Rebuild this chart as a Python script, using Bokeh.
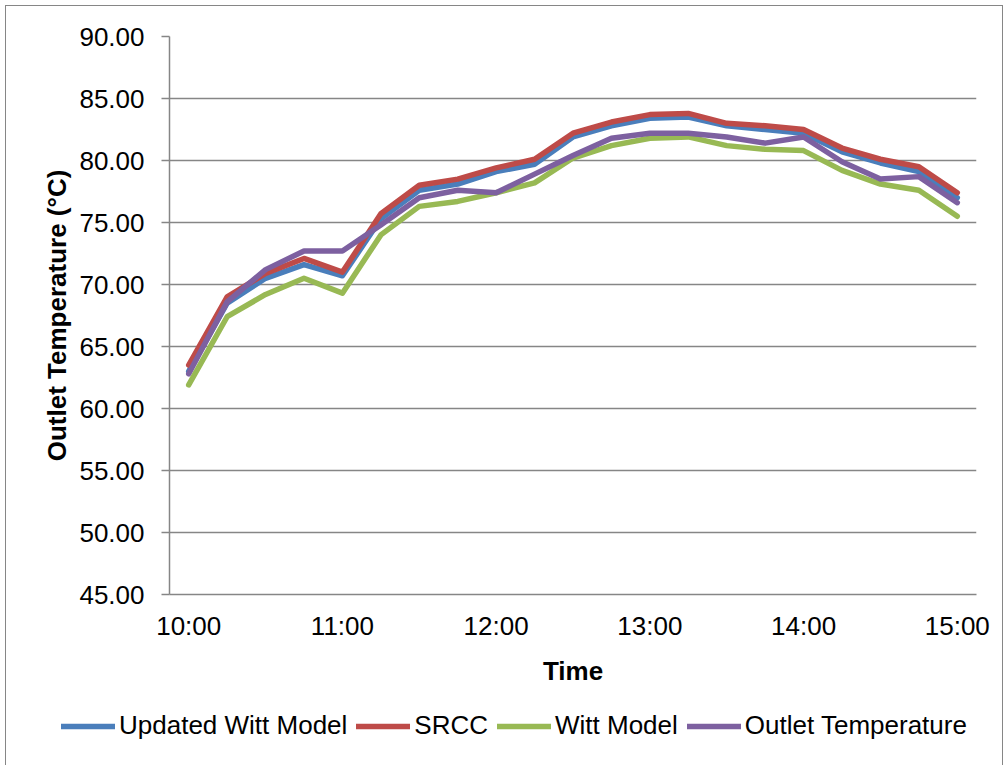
from bokeh.plotting import figure
from bokeh.layouts import column
from bokeh.models import (Range1d, Legend, LegendItem, NumeralTickFormatter, FixedTicker)
from bokeh.embed import file_html
from bokeh.resources import INLINE

times = ["10:00", "10:15", "10:30", "10:45", "11:00", "11:15", "11:30", "11:45",
         "12:00", "12:15", "12:30", "12:45", "13:00", "13:15", "13:30", "13:45",
         "14:00", "14:15", "14:30", "14:45", "15:00"]

updated_witt = [63.0, 68.5, 70.5, 71.6, 70.7, 75.3, 77.6, 78.1, 79.1, 79.7, 81.9,
                82.8, 83.4, 83.5, 82.8, 82.5, 82.2, 80.7, 79.8, 79.1, 77.0]
srcc = [63.5, 69.0, 70.9, 72.1, 71.0, 75.7, 78.0, 78.5, 79.4, 80.1, 82.2,
        83.1, 83.7, 83.8, 83.0, 82.8, 82.5, 81.0, 80.1, 79.5, 77.4]
witt = [61.9, 67.4, 69.2, 70.5, 69.3, 74.0, 76.3, 76.7, 77.4, 78.2, 80.2,
        81.2, 81.8, 81.9, 81.2, 80.9, 80.8, 79.2, 78.1, 77.6, 75.5]
outlet = [62.8, 68.6, 71.2, 72.7, 72.7, 74.8, 77.0, 77.6, 77.4, 78.9, 80.4,
          81.8, 82.2, 82.2, 81.9, 81.4, 81.9, 79.9, 78.5, 78.7, 76.6]

y_ticks = [45, 50, 55, 60, 65, 70, 75, 80, 85, 90]
hour_labels = ["10:00", "11:00", "12:00", "13:00", "14:00", "15:00"]

series = [("Updated Witt Model", updated_witt, "#4A7EBB"),
          ("SRCC", srcc, "#BE4B48"),
          ("Witt Model", witt, "#98B954"),
          ("Outlet Temperature", outlet, "#7D60A0")]

FONT = "Liberation Sans"
GRID = "#868686"
LW = 5.5

x_idx = list(range(len(times)))
hour_idx = [times.index(h) for h in hour_labels]

p = figure(width=998, height=690,
           x_range=Range1d(-0.5, len(times) - 0.5),
           y_range=Range1d(y_ticks[0], y_ticks[-1]),
           output_backend="svg", toolbar_location=None,
           min_border_left=163, min_border_right=28, min_border_top=30,
           min_border_bottom=102)
p.margin = (5, 0, 0, 5)
p.styles = {"border-left": "1px solid #868686", "border-top": "1px solid #868686",
            "border-right": "1px solid #868686"}
p.outline_line_color = None
p.background_fill_color = "white"
p.border_fill_color = "white"

for name, vals, col in series:
    p.line(x_idx, vals, line_color=col, line_width=LW, line_join="round", line_cap="round")

# y axis
p.yaxis.ticker = FixedTicker(ticks=y_ticks)
p.yaxis.formatter = NumeralTickFormatter(format="0.00")
p.yaxis.axis_label = "Outlet Temperature (°C)"
p.yaxis.axis_label_text_font = FONT
p.yaxis.axis_label_text_font_style = "bold"
p.yaxis.axis_label_text_font_size = "26px"
p.yaxis.axis_label_text_color = "black"
p.yaxis.axis_label_standoff = 4
p.yaxis.major_label_text_font = FONT
p.yaxis.major_label_text_font_size = "26px"
p.yaxis.major_label_text_color = "black"
p.yaxis.major_label_standoff = 17
p.yaxis.major_tick_out = 8
p.yaxis.major_tick_in = 0
p.yaxis.minor_tick_line_color = None
p.yaxis.axis_line_color = GRID
p.yaxis.major_tick_line_color = GRID
p.yaxis.axis_line_width = 1.5
p.yaxis.major_tick_line_width = 1.5

# x axis
p.xaxis.ticker = FixedTicker(ticks=hour_idx)
p.xaxis.major_label_overrides = {i: t for i, t in zip(hour_idx, hour_labels)}
p.xaxis.axis_label = "Time"
p.xaxis.axis_label_text_font = FONT
p.xaxis.axis_label_text_font_style = "bold"
p.xaxis.axis_label_text_font_size = "26px"
p.xaxis.axis_label_text_color = "black"
p.xaxis.axis_label_standoff = 12
p.xaxis.major_label_text_font = FONT
p.xaxis.major_label_text_font_size = "26px"
p.xaxis.major_label_text_color = "black"
p.xaxis.major_label_standoff = 16
p.xaxis.major_tick_line_color = None
p.xaxis.major_tick_out = 0
p.xaxis.major_tick_in = 0
p.xaxis.minor_tick_line_color = None
p.xaxis.axis_line_color = GRID
p.xaxis.axis_line_width = 1.5

p.xgrid.grid_line_color = None
p.ygrid.grid_line_color = GRID
p.ygrid.grid_line_width = 1.5

# legend strip below the chart (series repeated out of view, only legend shows)
leg = figure(width=998, height=70, x_range=Range1d(-1000, -999), y_range=Range1d(-1000, -999),
             x_axis_location=None, y_axis_location=None,
             output_backend="svg", toolbar_location=None,
             min_border_left=0, min_border_right=0, min_border_top=0, min_border_bottom=0)
if "frame_align" in leg.properties():
    leg.frame_align = False
leg.margin = (0, 0, 0, 5)
leg.styles = {"border-left": "1px solid #868686", "border-right": "1px solid #868686"}
leg.grid.visible = False
leg.outline_line_color = None
leg.background_fill_color = "white"
leg.border_fill_color = "white"

items = []
for name, vals, col in series:
    r = leg.line(x_idx, vals, line_color=col, line_width=LW, line_cap="round")
    items.append(LegendItem(label=name, renderers=[r]))

legend = Legend(items=items, orientation="horizontal", location=(55, 24),
                label_text_font=FONT, label_text_font_size="26px",
                label_text_color="black",
                glyph_width=54, glyph_height=20, label_standoff=4, spacing=9,
                border_line_color=None, background_fill_alpha=0,
                padding=0, margin=0)
leg.add_layout(legend, "center")

layout = column(p, leg, spacing=0)
open("out.html", "w").write(file_html(layout, INLINE))
